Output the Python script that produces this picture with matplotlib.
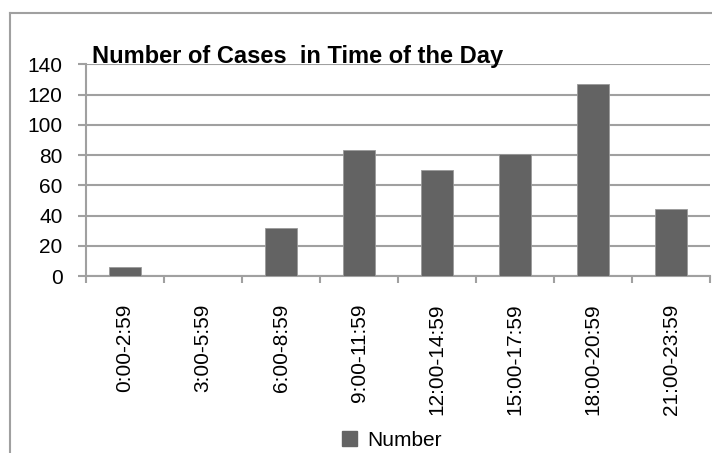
import matplotlib.pyplot as plt
from matplotlib.lines import Line2D
from matplotlib.patches import Patch

# data
time_slots = ['0:00-2:59', '3:00-5:59', '6:00-8:59', '9:00-11:59',
              '12:00-14:59', '15:00-17:59', '18:00-20:59', '21:00-23:59']
cases = [6, 0, 32, 83, 70, 81, 127, 44]
y_ticks = [0, 20, 40, 60, 80, 100, 120, 140]

plt.rcParams['font.family'] = ['Liberation Sans', 'DejaVu Sans']

W, H = 712, 453
fig = plt.figure(figsize=(W / 100, H / 100), dpi=100)
ax = fig.add_axes([86 / W, 1 - 276 / H, 624 / W, (276 - 64.3) / H])

bar_color = '#636363'
grid_color = '#a0a0a0'

x = range(len(time_slots))
ax.bar(x, cases, width=0.4, color=bar_color, edgecolor='#9a9a9a', linewidth=0.6, zorder=3)

ax.set_xlim(-0.5, len(time_slots) - 0.5)
ax.set_ylim(0, 140)
ax.set_yticks(y_ticks)
ax.set_yticklabels([str(v) for v in y_ticks], fontsize=15)
ax.yaxis.grid(True, color=grid_color, linewidth=1.5, zorder=0)

# category ticks sit between the bars, like Excel
ax.set_xticks([i - 0.5 for i in range(len(time_slots) + 1)], minor=False)
ax.set_xticklabels([])
ax.set_xticks(list(x), minor=True)
ax.set_xticklabels(time_slots, minor=True, rotation=90, fontsize=15)
ax.tick_params(axis='x', which='minor', length=0, pad=20)
ax.tick_params(axis='x', which='major', length=5, width=1.5, color=grid_color)
ax.tick_params(axis='y', length=5.8, width=1.5, color=grid_color, pad=11)

for side in ['top', 'right']:
    ax.spines[side].set_visible(False)
for side in ['left', 'bottom']:
    ax.spines[side].set_color(grid_color)
    ax.spines[side].set_linewidth(1.5)

fig.text(298 / W, 1 - 63 / H, 'Number of Cases  in Time of the Day', ha='center', va='baseline',
         fontsize=17, fontweight='bold')

# outer chart border (only left and top show in the crop)
fig.add_artist(Line2D([10 / W, 10 / W], [0, 1 - 13 / H], color=grid_color, linewidth=1.5))
fig.add_artist(Line2D([10 / W, 1], [1 - 13 / H, 1 - 13 / H], color=grid_color, linewidth=1.5))

handle = Patch(facecolor=bar_color, edgecolor=bar_color)
fig.legend([handle], ['Number'], loc='center', bbox_to_anchor=(392 / W, 1 - 440 / H),
           frameon=False, fontsize=15, handlelength=0.7, handleheight=0.7, handletextpad=0.5)

fig.savefig('out.png', dpi=100)
